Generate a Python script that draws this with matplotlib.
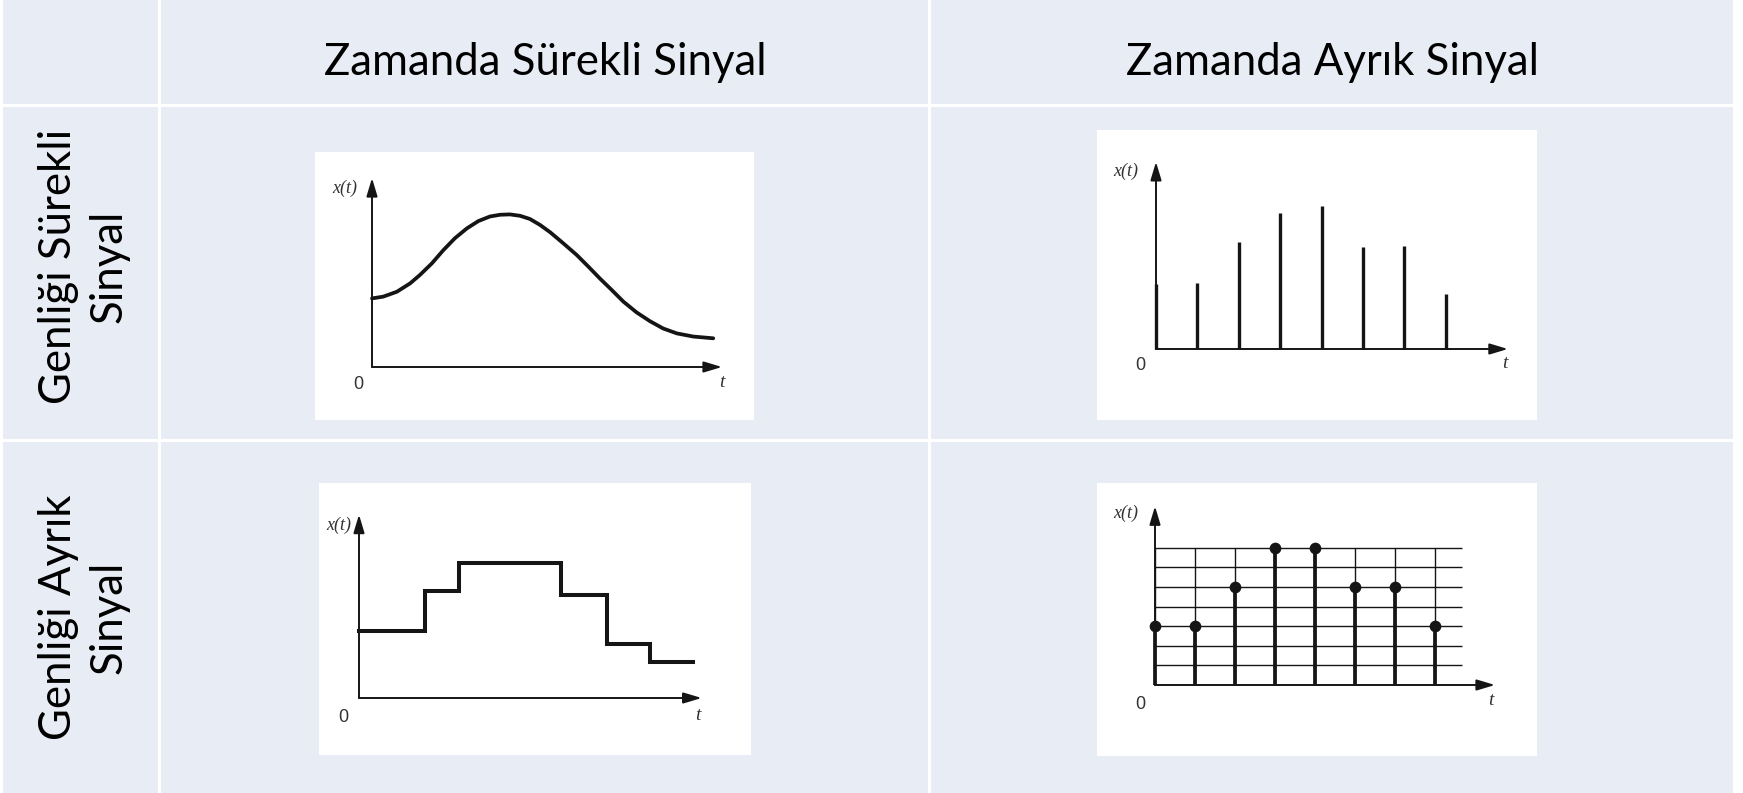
import matplotlib
matplotlib.use('Agg')
import matplotlib.pyplot as plt
from matplotlib.patches import Rectangle

W, H = 1743, 793
DPI = 100

# ---------------- data ----------------
col_headers = ["Zamanda Sürekli Sinyal", "Zamanda Ayrık Sinyal"]
row_headers = ["Genliği Sürekli\nSinyal", "Genliği Ayrık\nSinyal"]

# continuous time / continuous amplitude
cont_t = [0.00, 0.32, 0.71, 1.09, 1.37, 1.71, 2.04, 2.37, 2.71, 3.04, 3.37, 3.66, 3.94, 4.23,
          4.51, 4.80, 5.09, 5.47, 5.85, 6.18, 6.51, 6.85, 7.18, 7.56, 7.94, 8.32, 8.71, 9.18, 9.75]
cont_x = [1.96, 2.01, 2.15, 2.39, 2.63, 2.96, 3.34, 3.68, 3.96, 4.17, 4.30, 4.35, 4.36, 4.32,
          4.23, 4.06, 3.85, 3.53, 3.20, 2.87, 2.53, 2.20, 1.87, 1.56, 1.31, 1.10, 0.96, 0.87, 0.82]

# discrete time / continuous amplitude
samp_n = [0, 1, 2, 3, 4, 5, 6, 7]
samp_x = [1.56, 1.60, 2.59, 3.29, 3.46, 2.47, 2.49, 1.32]

# continuous time / discrete amplitude (staircase)
stair_t = [0.0, 1.88, 2.85, 5.77, 7.08, 8.30, 9.55]
stair_x = [1.91, 3.05, 3.86, 2.93, 1.55, 1.03, 1.03]

# discrete time / discrete amplitude
quant_n = [0, 1, 2, 3, 4, 5, 6, 7]
quant_x = [3, 3, 5, 7, 7, 5, 5, 3]
quant_levels = [0, 1, 2, 3, 4, 5, 6, 7]

CELL = '#E8ECF4'
INK = '#151515'

fig = plt.figure(figsize=(W / DPI, H / DPI), dpi=DPI)
fig.patch.set_facecolor('white')
bg = fig.add_axes([0, 0, 1, 1])
bg.set_xlim(0, W)
bg.set_ylim(H, 0)
bg.axis('off')

col_edges = [(3, 158.5), (161.5, 928.5), (931.5, 1733)]
row_edges = [(0, 103.5), (106.5, 438.5), (441.5, 793)]
for (x0, x1) in col_edges:
    for (y0, y1) in row_edges:
        bg.add_patch(Rectangle((x0, y0), x1 - x0, y1 - y0, fc=CELL, ec='none'))

# headers
renderer = fig.canvas.get_renderer()
probe = bg.text(0, 0, col_headers[0], fontsize=30, family='Lato')
wprobe = probe.get_window_extent(renderer).width
probe.remove()
FS = 30 * 442 / wprobe

bg.text(545, 75, col_headers[0], fontsize=FS, family='Lato', ha='center', va='baseline', color='black')
bg.text(1333, 75, col_headers[1], fontsize=FS, family='Lato', ha='center', va='baseline', color='black')
bg.text(84, 266, row_headers[0], fontsize=FS, family='Lato', rotation=90, ha='center', va='center',
        multialignment='center', linespacing=1.3, color='black')
bg.text(84, 617, row_headers[1], fontsize=FS, family='Lato', rotation=90, ha='center', va='center',
        multialignment='center', linespacing=1.3, color='black')


def panel(rect, origin, sx, sy):
    x0, y0, x1, y1 = rect
    ox, oy = origin
    ax = fig.add_axes([x0 / W, 1 - y1 / H, (x1 - x0) / W, (y1 - y0) / H])
    ax.set_xlim((x0 - ox) / sx, (x1 - ox) / sx)
    ax.set_ylim((oy - y1) / sy, (oy - y0) / sy)
    ax.set_facecolor('white')
    for s in ax.spines.values():
        s.set_visible(False)
    ax.set_xticks([])
    ax.set_yticks([])
    return ax


def arrows(ax, xtip, ytip):
    style = dict(arrowstyle='-|>,head_length=1.0,head_width=0.3', lw=1.4, color=INK,
                 shrinkA=0, shrinkB=0, mutation_scale=11)
    ax.annotate('', xy=(xtip, 0), xytext=(0, 0), arrowprops=style)
    ax.annotate('', xy=(0, ytip), xytext=(0, 0), arrowprops=style)


def labels(ax, xy_x, xy_0, xy_t):
    ax.text(*xy_x, 'x(t)', fontsize=13, family='Liberation Serif', style='italic',
            ha='center', va='center', color='#333333')
    ax.text(*xy_0, '0', fontsize=13, family='Liberation Sans', ha='center', va='center', color='#333333')
    ax.text(*xy_t, 't', fontsize=14, family='Liberation Serif', style='italic',
            ha='center', va='center', color='#333333')


# Panel 1: continuous / continuous
ax1 = panel((315, 152, 754, 420), (372, 367), 35, 35)
arrows(ax1, 10.0, 5.4)
ax1.plot(cont_t, cont_x, color=INK, lw=2.7, solid_joinstyle='round', solid_capstyle='round')
labels(ax1, (-0.77, 5.11), (-0.40, -0.51), (10.0, -0.43))

# Panel 2: discrete time / continuous amplitude
ax2 = panel((1097, 130, 1537, 420), (1156, 349), 41.4, 41.4)
arrows(ax2, 8.5, 4.52)
ax2.vlines(samp_n, 0, samp_x, color=INK, lw=2.4)
labels(ax2, (-0.72, 4.28), (-0.39, -0.41), (8.43, -0.34))

# Panel 3: continuous time / discrete amplitude
ax3 = panel((319, 483, 751, 755), (359, 698), 35, 35)
arrows(ax3, 9.79, 5.24)
ax3.step(stair_t, stair_x, where='post', color=INK, lw=2.9, solid_joinstyle='miter')
labels(ax3, (-0.58, 4.94), (-0.46, -0.57), (9.69, -0.51))

# Panel 4: discrete time / discrete amplitude
ax4 = panel((1097, 483, 1537, 756), (1155, 685), 40, 19.6)
ax4.hlines(quant_levels[1:], 0, 7.68, color=INK, lw=1.0)
ax4.vlines(quant_n, 0, max(quant_levels), color=INK, lw=1.0)
arrows(ax4, 8.5, 9.12)
ax4.vlines(quant_n, 0, quant_x, color=INK, lw=2.7)
ax4.plot(quant_n, quant_x, 'o', color=INK, ms=7.4)
labels(ax4, (-0.72, 8.78), (-0.37, -1.02), (8.4, -0.77))

fig.savefig('out.png', dpi=DPI, facecolor='white')
